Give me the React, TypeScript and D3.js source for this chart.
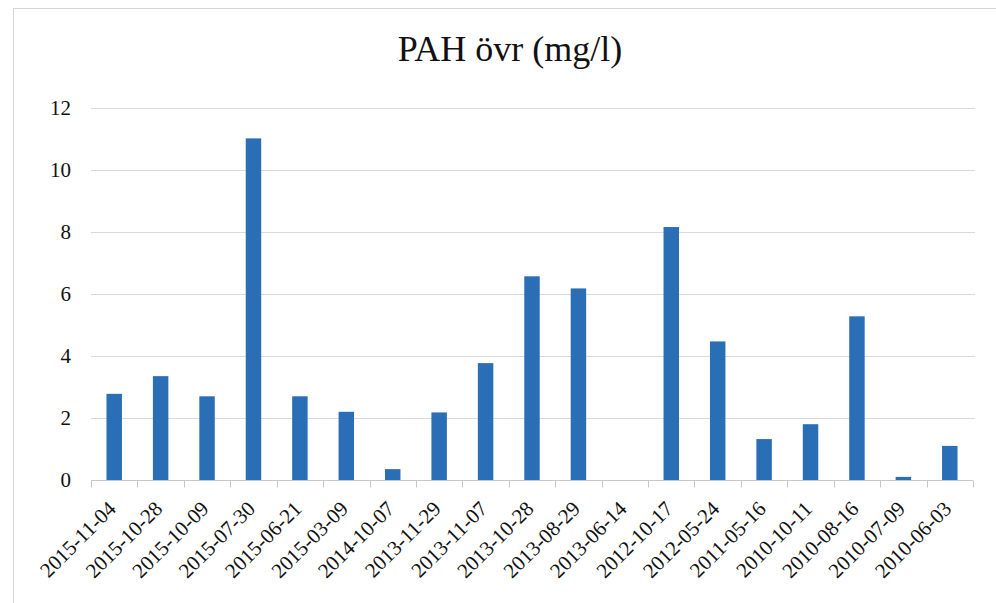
import React, { useEffect, useRef } from 'react';
import * as d3 from 'd3';

// data
const dates = [
  '2015-11-04', '2015-10-28', '2015-10-09', '2015-07-30', '2015-06-21',
  '2015-03-09', '2014-10-07', '2013-11-29', '2013-11-07', '2013-10-28',
  '2013-08-29', '2013-06-14', '2012-10-17', '2012-05-24', '2011-05-16',
  '2010-10-11', '2010-08-16', '2010-07-09', '2010-06-03',
];
const pahValues = [
  2.78, 3.35, 2.7, 11.02, 2.7,
  2.2, 0.35, 2.18, 3.77, 6.57,
  6.18, 0, 8.16, 4.47, 1.32,
  1.8, 5.28, 0.1, 1.1,
];
const yTicks = [0, 2, 4, 6, 8, 10, 12];
const title = 'PAH övr (mg/l)';

export default function App() {
  const svgRef = useRef<SVGSVGElement>(null);
  const width = 996;
  const height = 603;
  const margin = { top: 108, right: 23, bottom: 123, left: 91 };
  const font = '"Liberation Serif", "Times New Roman", serif';

  useEffect(() => {
    const svg = d3.select(svgRef.current);
    svg.selectAll('*').remove();

    const x = d3
      .scaleBand<string>()
      .domain(dates)
      .range([margin.left, width - margin.right])
      .padding(0);

    const y = d3
      .scaleLinear()
      .domain([0, 12])
      .range([height - margin.bottom, margin.top]);

    // chart frame
    svg
      .append('rect')
      .attr('x', 13.5)
      .attr('y', 8.5)
      .attr('width', 1000)
      .attr('height', 700)
      .attr('fill', 'none')
      .attr('stroke', '#d6d6d6');

    // gridlines
    svg
      .append('g')
      .selectAll('line')
      .data(yTicks.filter((t) => t > 0))
      .enter()
      .append('line')
      .attr('x1', margin.left)
      .attr('x2', width - margin.right + 2)
      .attr('y1', (d) => Math.round(y(d)) + 0.5)
      .attr('y2', (d) => Math.round(y(d)) + 0.5)
      .attr('stroke', '#d9d9d9');

    // y tick labels
    svg
      .append('g')
      .selectAll('text')
      .data(yTicks)
      .enter()
      .append('text')
      .text((d) => d)
      .attr('x', 71)
      .attr('y', (d) => y(d))
      .attr('dy', '0.35em')
      .attr('text-anchor', 'end')
      .attr('font-family', font)
      .attr('font-size', 21)
      .attr('fill', '#111');

    // bars
    const barW = x.bandwidth() / 3;
    svg
      .append('g')
      .selectAll('rect')
      .data(pahValues)
      .enter()
      .append('rect')
      .attr('x', (_, i) => (x(dates[i]) as number) + x.bandwidth() / 2 - barW / 2)
      .attr('y', (d) => y(d))
      .attr('width', barW)
      .attr('height', (d) => y(0) - y(d))
      .attr('fill', '#2a6fb6');

    // x axis with ticks between categories
    const axis = svg
      .append('g')
      .attr('transform', `translate(0,${Math.round(y(0)) + 0.5})`);
    axis
      .append('line')
      .attr('x1', margin.left)
      .attr('x2', width - margin.right)
      .attr('stroke', '#c8c8c8');
    const boundaries = dates.map((d) => x(d) as number).concat([width - margin.right]);
    axis
      .selectAll('line.tick')
      .data(boundaries)
      .enter()
      .append('line')
      .attr('class', 'tick')
      .attr('x1', (d) => Math.round(d) + 0.5)
      .attr('x2', (d) => Math.round(d) + 0.5)
      .attr('y1', 0)
      .attr('y2', 7)
      .attr('stroke', '#c8c8c8');

    // rotated date labels
    svg
      .append('g')
      .selectAll('text')
      .data(dates)
      .enter()
      .append('text')
      .text((d) => d)
      .attr(
        'transform',
        (d) =>
          `translate(${(x(d) as number) + x.bandwidth() / 2 + 3},${y(0) + 30}) rotate(-45)`
      )
      .attr('text-anchor', 'end')
      .attr('font-family', font)
      .attr('font-size', 21)
      .attr('fill', '#111');

    // title
    svg
      .append('text')
      .attr('x', 510)
      .attr('y', 61)
      .attr('text-anchor', 'middle')
      .attr('font-family', font)
      .attr('font-size', 36)
      .attr('fill', '#111')
      .text(title);
  }, []);

  return (
    <svg
      ref={svgRef}
      width={width}
      height={height}
      style={{ position: 'absolute', left: 0, top: 0, background: '#fff' }}
    />
  );
}
